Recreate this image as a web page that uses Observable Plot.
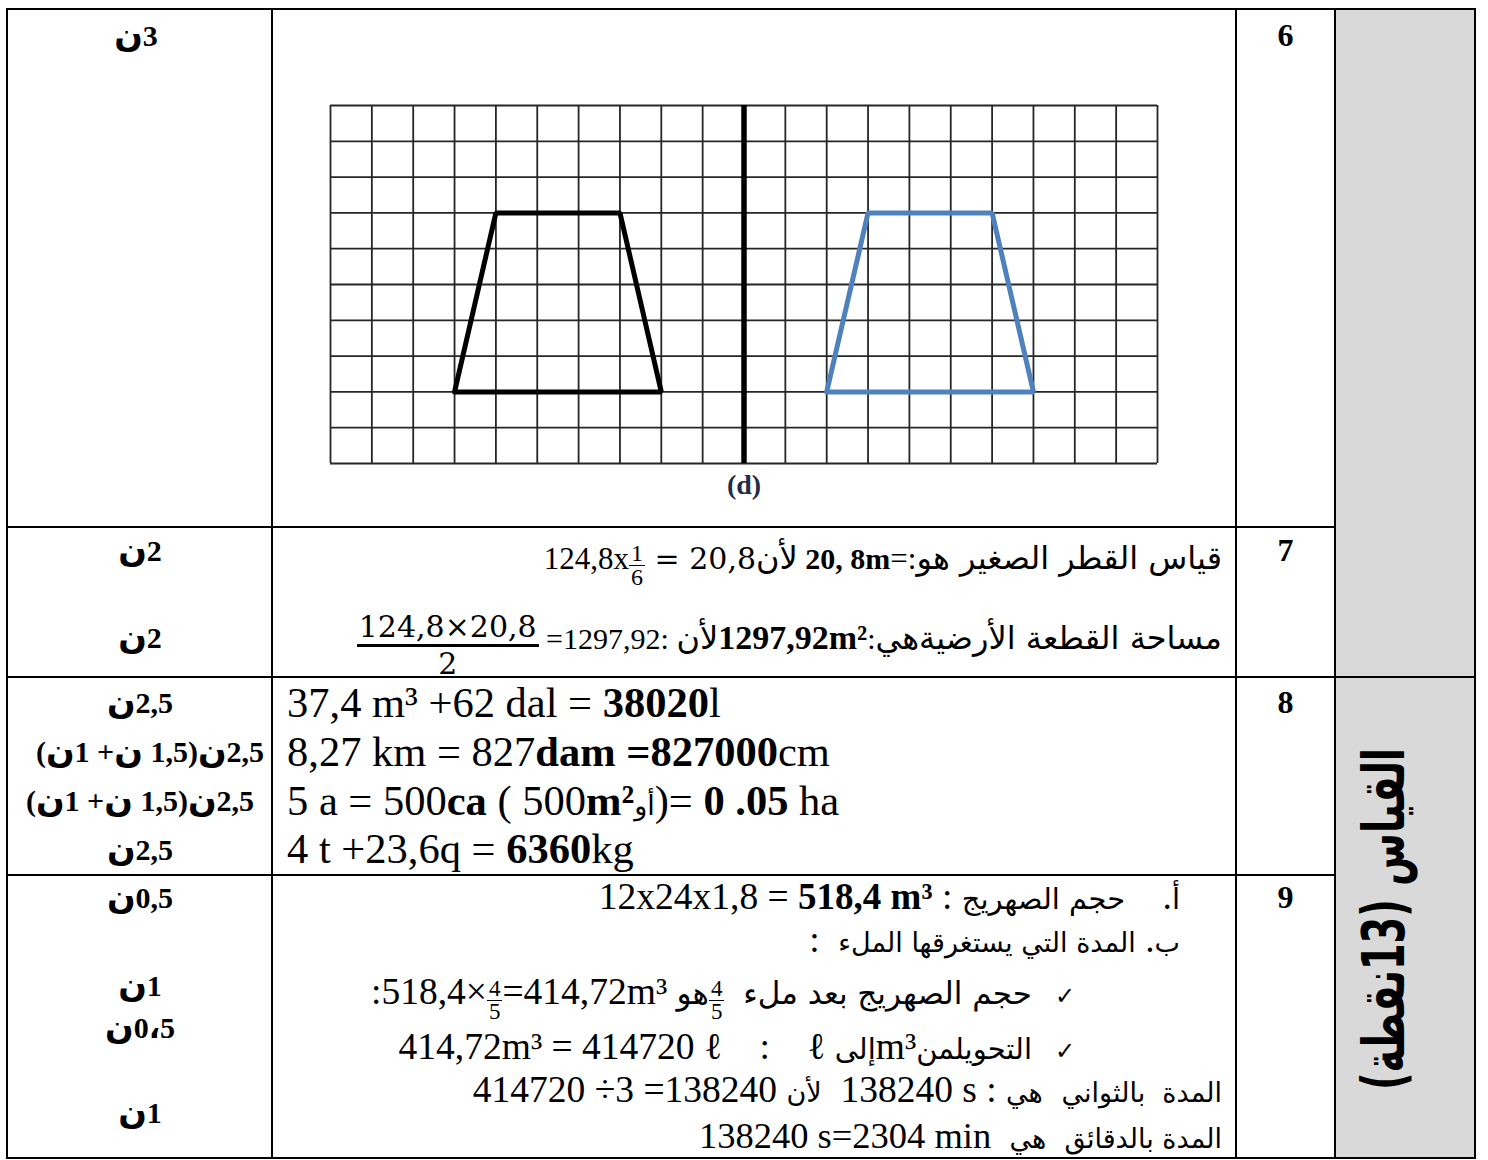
<!DOCTYPE html>
<html><head><meta charset="utf-8">
<script src="https://cdn.jsdelivr.net/npm/d3@7"></script>
<script src="https://cdn.jsdelivr.net/npm/@observablehq/plot@0.6"></script>
<style>
html,body{margin:0;padding:0;background:#fff;}
#page{position:relative;width:1488px;height:1160px;overflow:hidden;background:#fff;}
.rule{position:absolute;background:#000;}
.ln{position:absolute;white-space:pre;font-family:"Liberation Serif",serif;color:#000;}
.ln > span{display:inline-block;vertical-align:baseline;}
.ln > span.fr{display:inline-flex;flex-direction:column;align-items:center;vertical-align:middle;line-height:0.95;}
.ln > span.fr.big{line-height:1.12;}
.fr > .num{padding:0 2px;}
.ar{font-family:"DejaVu Sans",sans-serif;direction:rtl;unicode-bidi:isolate;}
.sc{position:absolute;white-space:pre;font-family:"Liberation Serif","DejaVu Sans",serif;font-weight:bold;direction:ltr;unicode-bidi:bidi-override;text-align:center;}
.sc .n{font-family:"DejaVu Sans",sans-serif;font-size:1.12em;}
#title{position:absolute;white-space:pre;font-family:"DejaVu Sans",sans-serif;font-weight:bold;direction:rtl;}
#grid{position:absolute;}
</style>
</head>
<body>
<div id="page"></div>
<script>
// ---------------- content ----------------
const questionNumbers = ["6", "7", "8", "9"];
const scoreLabels = ["ن3", "ن2", "ن2", "ن2,5", "(ن1 +ن 1,5)ن2,5", "(ن1 +ن 1,5)ن2,5", "ن2,5", "ن0,5", "ن1", "ن0،5", "ن1"];
const sectionTitle = "القياس (13نقطة)";
const axisLabel = "(d)";
const gridCols = 20;
const gridRows = 10;
const axisCol = 10;
const originalShape = [{x: 3, y: 8}, {x: 4, y: 3}, {x: 7, y: 3}, {x: 8, y: 8}];
const imageShape = [{x: 12, y: 8}, {x: 13, y: 3}, {x: 16, y: 3}, {x: 17, y: 8}];

// segments: [text, kind] ; kind: s=serif, b=bold serif, m=math serif, a=arabic, c=check ; or {n,d} fraction
const q7Lines = [
  [["124,8x", "s"], {n: "1", d: "6"}, [" = 20,8", "m"], ["لأن", "a"], [" 20, 8m", "b"], ["=:", "s"], ["قياس القطر الصغير هو", "a"]],
  [{n: "124,8×20,8", d: "2", big: true}, [" =1297,92: ", "s"], ["لأن", "a"], ["1297,92m²", "b"], [":", "s"], ["مساحة القطعة الأرضيةهي", "a"]]
];
const q8Lines = [
  [["37,4 m³ +62 dal = ", "s"], ["38020", "b"], ["l", "s"]],
  [["8,27 km = 827", "s"], ["dam =827000", "b"], ["cm", "s"]],
  [["5 a = 500", "s"], ["ca", "b"], [" ( 500", "s"], ["m²", "b"], ["أو", "a"], [")= ", "s"], ["0 .05", "b"], [" ha", "s"]],
  [["4 t +23,6q = ", "s"], ["6360", "b"], ["kg", "s"]]
];
const q9Lines = [
  [["12x24x1,8 = ", "s"], ["518,4 m³", "b"], [" : ", "s"], ["حجم الصهريج", "a"], ["    .", "s"], ["أ", "a"]],
  [[":  ", "s"], ["المدة التي يستغرقها الملء", "a"], [" .", "s"], ["ب", "a"]],
  [[":518,4×", "s"], {n: "4", d: "5"}, ["=414,72m³ ", "s"], ["هو", "a"], {n: "4", d: "5"}, ["  ", "s"], ["حجم الصهريج بعد ملء", "a"], ["   ✓", "c"]],
  [["414,72m³ = 414720 ℓ", "s"], ["    :    ", "s"], ["ℓ ", "s"], ["إلى", "a"], ["m³", "s"], ["التحويلمن", "a"], ["   ✓", "c"]],
  [["414720 ÷3 =138240 ", "s"], ["لأن", "a"], ["  138240 s : ", "s"], ["هي", "a"], ["  ", "s"], ["المدة  بالثواني", "a"]],
  [["138240 s=2304 min  ", "s"], ["هي", "a"], ["  ", "s"], ["المدة بالدقائق", "a"]]
];

// ---------------- layout ----------------
const page = document.getElementById("page");
const T = {left: 7, top: 9, right: 1475, bottom: 1158};
const colX = [272, 1236, 1335];
const rowY = [527, 677, 875];

function box(x, y, w, h, cls, bg) {
  const d = document.createElement("div");
  d.className = cls;
  Object.assign(d.style, {left: x + "px", top: y + "px", width: w + "px", height: h + "px"});
  if (bg) d.style.background = bg;
  page.appendChild(d);
  return d;
}
// gray column
box(colX[2], T.top, T.right - colX[2], T.bottom - T.top, "rule", "#d9d9d9");
// rules
const lw = 2.4;
box(T.left - lw / 2, T.top - lw / 2, T.right - T.left + lw, lw, "rule");
box(T.left - lw / 2, T.bottom - lw / 2, T.right - T.left + lw, lw, "rule");
box(T.left - lw / 2, T.top - lw / 2, lw, T.bottom - T.top + lw, "rule");
box(T.right - lw / 2, T.top - lw / 2, lw, T.bottom - T.top + lw, "rule");
colX.forEach(x => box(x - 1, T.top, 2, T.bottom - T.top, "rule"));
box(T.left, rowY[0] - 1, colX[2] - T.left, 2, "rule");
box(T.left, rowY[1] - 1, T.right - T.left, 2, "rule");
box(T.left, rowY[2] - 1, colX[2] - T.left, 2, "rule");

const sizes = {s: 36, b: 36, m: 34, a: 26, c: 24};
function makeLine(segs, opts) {
  const d = document.createElement("div");
  d.className = "ln";
  const lh = opts.lh || 70;
  d.style.lineHeight = lh + "px";
  d.style.top = (opts.cy - lh / 2) + "px";
  if (opts.left != null) d.style.left = opts.left + "px";
  else d.style.right = (1488 - opts.right) + "px";
  const sz = Object.assign({}, sizes, opts.sizes || {});
  segs.forEach(seg => {
    const sp = document.createElement("span");
    if (Array.isArray(seg)) {
      const [txt, k] = seg;
      sp.textContent = txt;
      sp.style.fontSize = sz[k] + "px";
      if (k === "b") sp.style.fontWeight = "bold";
      if (k === "m") sp.style.fontFamily = "'DejaVu Serif', serif";
      if (k === "a") sp.className = "ar";
      if (k === "c") sp.style.fontFamily = "'DejaVu Sans', sans-serif";
    } else {
      sp.className = seg.big ? "fr big" : "fr";
      const fs = seg.big ? (opts.bigFrac || 32) : (opts.frac || 22);
      sp.style.fontSize = fs + "px";
      if (seg.big) sp.style.fontFamily = "'DejaVu Serif', serif";
      const n = document.createElement("span");
      n.className = "num";
      n.textContent = seg.n;
      n.style.borderBottom = (seg.big ? 3 : 1.5) + "px solid #000";
      const dd = document.createElement("span");
      dd.textContent = seg.d;
      sp.appendChild(n); sp.appendChild(dd);
    }
    d.appendChild(sp);
  });
  page.appendChild(d);
  return d;
}

// question numbers
const numCy = [35, 550, 702, 897];
questionNumbers.forEach((q, i) => {
  const d = box(colX[1], numCy[i] - 25, colX[2] - colX[1], 50, "sc");
  d.style.background = "none";
  d.style.fontSize = "32px"; d.style.lineHeight = "50px";
  d.textContent = q;
});
// score labels (the Arabic letter in a slightly larger span)
const scoreCy = [35, 550, 637, 702, 751, 800, 849, 897, 985, 1027, 1112];
const scoreCx = [136, 140, 140, 140, 150, 140, 140, 140, 140, 140, 140];
scoreLabels.forEach((s, i) => {
  const d = box(scoreCx[i] - 130, scoreCy[i] - 25, 260, 50, "sc");
  d.style.background = "none";
  d.style.fontSize = "30px"; d.style.lineHeight = "50px";
  s.split(/(ن)/).forEach(part => {
    if (!part) return;
    if (part === "ن") {
      const sp = document.createElement("span");
      sp.className = "n";
      sp.textContent = part;
      d.appendChild(sp);
    } else d.appendChild(document.createTextNode(part));
  });
});

// question 7
makeLine(q7Lines[0], {right: 1222, cy: 558, lh: 80, sizes: {s: 31, b: 30, m: 30, a: 32}, frac: 24});
makeLine(q7Lines[1], {right: 1222, cy: 638, lh: 90, sizes: {s: 30, b: 34, a: 32}, bigFrac: 30});
// question 8
const q8Cy = [703, 752, 801, 849];
q8Lines.forEach((l, i) => makeLine(l, {left: 287, cy: q8Cy[i], lh: 50, sizes: {s: 42.5, b: 42.5, a: 27}}));
// question 9
const q9Cy = [897, 940, 992, 1047, 1090, 1136];
const q9Right = [1180, 1180, 1075, 1075, 1222, 1222];
const q9Arabic = [29, 27, 31, 29, 27, 27];
const q9Latin = [37.5, 37.5, 37.5, 37.5, 37.5, 36.5];
q9Lines.forEach((l, i) => makeLine(l, {right: q9Right[i], cy: q9Cy[i], lh: 60, sizes: {s: q9Latin[i], b: q9Latin[i] - 0.5, a: q9Arabic[i]}, frac: 23}));

// vertical section title
const tt = document.createElement("div");
tt.id = "title";
tt.textContent = sectionTitle;
tt.style.fontSize = "58px";
tt.style.lineHeight = "1";
page.appendChild(tt);
const tw = tt.offsetWidth, th = tt.offsetHeight;
Object.assign(tt.style, {left: (1384 - tw / 2) + "px", top: (919 - th / 2) + "px", transform: "rotate(-90deg) scaleX(0.66)"});

// ---------------- grid figure (Plot) ----------------
const G = {x0: 330, x1: 1157, y0: 105, y1: 463};
const m = {l: 12, r: 12, t: 12, b: 45};
const closed = s => [...s, s[0]];
const plot = Plot.plot({
  width: G.x1 - G.x0 + m.l + m.r,
  height: G.y1 - G.y0 + m.t + m.b,
  marginLeft: m.l, marginRight: m.r, marginTop: m.t, marginBottom: m.b,
  x: {domain: [0, gridCols], axis: null},
  y: {domain: [0, gridRows], reverse: true, axis: null},
  style: {background: "transparent", overflow: "visible"},
  marks: [
    Plot.ruleX(d3.range(0, gridCols + 1), {y1: 0, y2: gridRows, stroke: "#262626", strokeWidth: 1.8}),
    Plot.ruleY(d3.range(0, gridRows + 1), {x1: 0, x2: gridCols, stroke: "#262626", strokeWidth: 1.8}),
    Plot.line(closed(originalShape), {x: "x", y: "y", stroke: "#000", strokeWidth: 5, strokeLinejoin: "miter"}),
    Plot.line(closed(imageShape), {x: "x", y: "y", stroke: "#4f81bd", strokeWidth: 5, strokeLinejoin: "miter"}),
    Plot.ruleX([axisCol], {y1: 0, y2: gridRows, stroke: "#000", strokeWidth: 5.5}),
    Plot.text([axisLabel], {x: () => axisCol, y: () => gridRows, dy: 22, fontSize: 28, fontWeight: "bold", fontFamily: "Liberation Serif", fill: "#1f2b48"})
  ]
});
const gd = document.createElement("div");
gd.id = "grid";
gd.style.left = (G.x0 - m.l) + "px";
gd.style.top = (G.y0 - m.t) + "px";
gd.appendChild(plot);
page.appendChild(gd);
</script>
</body></html>
